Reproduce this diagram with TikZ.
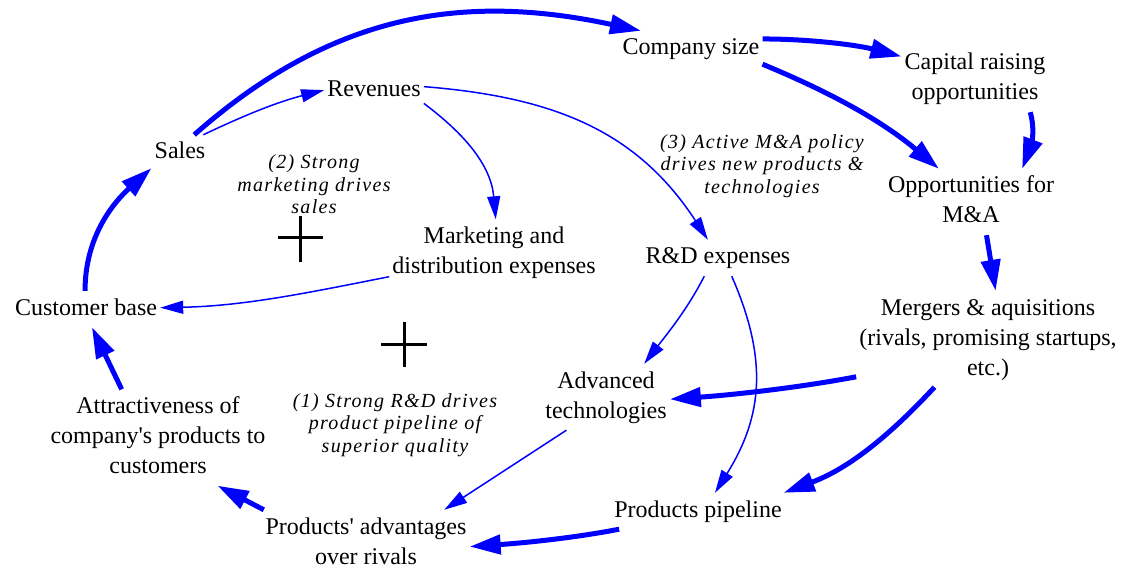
\documentclass[tikz,border=0pt]{standalone}
\usepackage{fontspec}
\setmainfont{Liberation Serif}
\newfontfamily\notefont[LetterSpace=6.5]{Liberation Serif}
\usetikzlibrary{arrows.meta}
\definecolor{linkblue}{RGB}{0,0,255}
\begin{document}
\begin{tikzpicture}[x=1pt,y=-1pt,
  var/.style={align=center, inner sep=3pt, font=\fontsize{24}{30}\selectfont},
  note/.style={align=center, inner sep=0pt, font=\notefont\itshape\fontsize{20}{22.5}\selectfont},
  strong/.style={draw=linkblue, line width=5pt, -{Triangle[length=31pt,width=19pt]}},
  weak/.style={draw=linkblue, line width=1.5pt, -{Triangle[length=23pt,width=13pt]}},
  plussign/.style={draw=black, line width=3pt}]
\path[use as bounding box] (0,0) rectangle (1124,569);

% variables
\node[var] (sales)   at (180,153)   {\strut Sales};
\node[var] (rev)     at (374,91)    {\strut Revenues};
\node[var] (mkt)     at (494,252.5) {\strut Marketing and\\\strut distribution expenses};
\node[var] (csize)   at (691,49)    {\strut Company size};
\node[var] (capital) at (975,79)    {\strut Capital raising\\\strut opportunities};
\node[var] (opp)     at (971,202)   {\strut Opportunities for\\\strut M\&A};
\node[var] (rnd)     at (718,258)   {\strut R\&D expenses};
\node[var] (merg)    at (988,339)   {\strut Mergers \& aquisitions\\\strut (rivals, promising startups,\\\strut etc.)};
\node[var] (cust)    at (86,309)    {\strut Customer base};
\node[var] (adv)     at (606,397)   {\strut Advanced\\\strut technologies};
\node[var] (attr)    at (158,437.5) {\strut Attractiveness of\\\strut company\textquotesingle s products to\\\strut customers};
\node[var] (prodadv) at (366,543)   {\strut Products\textquotesingle\ advantages\\\strut over rivals};
\node[var] (pipe)    at (698,511)   {\strut Products pipeline};

% loop annotations
\node[note] (n2) at (314,187)   {\strut(2) Strong\\\strut marketing drives\\\strut sales};
\node[note] (n3) at (762,166.5) {\strut(3) Active M\&A policy\\\strut drives new products \&\\\strut technologies};
\node[note] (n1) at (395,425)   {\strut(1) Strong R\&D drives\\\strut product pipeline of\\\strut superior quality};

% loop polarity signs
\draw[plussign] (300,216) -- (300,262) (278,238) -- (323,238);
\draw[plussign] (404,322) -- (404,367) (381,344) -- (427,344);

% causal links
\draw[strong] (sales.52) .. controls (330,15) and (460,-8) .. (csize.160);
\draw[weak]   (sales.38) .. controls (249,113) and (281,101) .. (rev.179);
\draw[weak]   (rev.346) .. controls (466,135) and (491,166) .. (mkt.87);
\draw[weak]   (rev.5) .. controls (554,97) and (637,131) .. (rnd.119);
\draw[weak]   (mkt.193) .. controls (307,293) and (244,306) .. (cust.1);
\draw[strong] (cust.93) .. controls (85,237) and (113,203) .. (sales.208);
\draw[strong] (attr.127) -- (cust.288);
\draw[strong] (prodadv.162) -- (attr.321);
\draw[strong] (pipe.193) .. controls (574,538) and (523,543) .. (prodadv.358);
\draw[strong] (csize.8) .. controls (810,39) and (857,45) .. (capital.163);
\draw[strong] (csize.348) .. controls (832,93) and (882,121) .. (opp.134);
\draw[strong] (capital.329) .. controls (1036,133) and (1030,148) .. (opp.33);
\draw[strong] (opp.295) -- (merg.81);
\draw[strong] (merg.196) .. controls (797,388) and (731,395) .. (adv.358);
\draw[strong] (merg.222) .. controls (891,434) and (850,468) .. (pipe.12);
\draw[weak]   (rnd.233) .. controls (687,310) and (667,334) .. (adv.41);
\draw[weak]   (rnd.307) .. controls (768,359) and (763,416) .. (pipe.47);
\draw[weak]   (adv.220) -- (prodadv.23);
\end{tikzpicture}
\end{document}
